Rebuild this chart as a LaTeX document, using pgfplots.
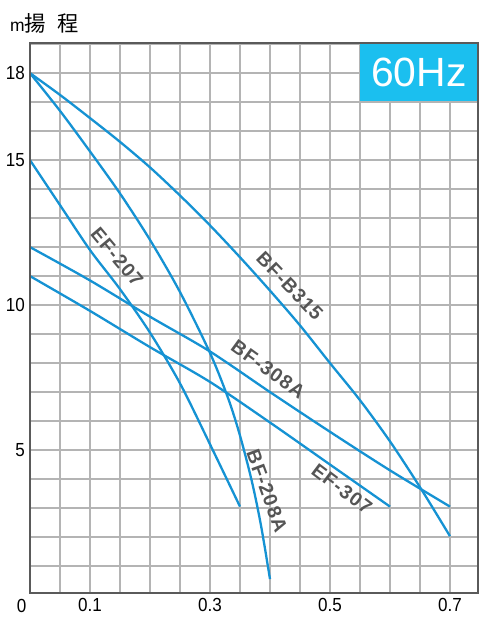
\documentclass[border=0pt]{standalone}
\usepackage{pgfplots}
\pgfplotsset{compat=1.18}
\usepackage{fontspec}
\setmainfont{Liberation Sans}
\newfontfamily\cjk{Noto Sans CJK TC}
\newfontfamily\lbl[LetterSpace=6]{Liberation Sans}
\newfontfamily\tickfont[FakeStretch=0.9]{Liberation Sans}
\definecolor{curve}{HTML}{1592D3}
\definecolor{hz}{HTML}{1BBFEF}
\definecolor{framec}{HTML}{5A5A5A}
\definecolor{gridc}{HTML}{B4B4B4}
\definecolor{txt}{HTML}{555555}
\tikzset{lbl/.style={font=\lbl\bfseries\fontsize{19.5}{22}\selectfont, text=txt}}
\begin{document}
\begin{tikzpicture}
\path[use as bounding box] (-30bp,-24bp) rectangle (451bp,593bp);
\begin{axis}[
  scale only axis, width=448bp, height=550bp,
  xmin=0, xmax=0.7467, ymin=0.07, ymax=19.04,
  xtick={0.1,0.3,0.5,0.7}, xticklabels={0.1,0.3,0.5,0.7},
  ytick={5,10,15,18}, yticklabels={5,10,15,18},
  minor xtick={0.05,0.1,0.15,0.2,0.25,0.3,0.35,0.4,0.45,0.5,0.55,0.6,0.65,0.7},
  minor ytick={1,2,3,4,5,6,7,8,9,10,11,12,13,14,15,16,17,18,19},
  grid=both,
  major grid style={gridc, line width=1.3bp},
  minor grid style={gridc, line width=1.3bp},
  axis line style={draw=none},
  tick style={draw=none},
  /pgf/number format/assume math mode=true,
  ticklabel style={font=\tickfont\fontsize{19}{21}\selectfont, text=black},
  xticklabel style={anchor=north, inner sep=0pt, yshift=-5bp},
  yticklabel style={anchor=east, inner sep=0pt, xshift=-5bp},
]
\fill[hz] (axis cs:0.55,17.03) rectangle (axis cs:0.7467,19.04);
\node[text=white, font=\fontsize{41}{45}\selectfont] at (axis cs:0.6483,18.03) {60Hz};
% BF-B315
\addplot[curve, line width=2.3bp, smooth, tension=0.5] coordinates {
(0,18) (0.05,17.25) (0.1,16.45) (0.15,15.63) (0.2,14.75) (0.25,13.78) (0.3,12.75)
(0.35,11.65) (0.4,10.5) (0.45,9.3) (0.5,8.0) (0.55,6.72) (0.6,5.3) (0.65,3.72) (0.7,2.03)};
% BF-208A
\addplot[curve, line width=2.3bp, smooth, tension=0.5] coordinates {
(0,18) (0.05,16.7) (0.1,15.3) (0.15,13.85) (0.2,12.25) (0.25,10.45) (0.3,8.35)
(0.33,6.8) (0.35,5.5) (0.37,3.9) (0.385,2.4) (0.4,0.55)};
% EF-207
\addplot[curve, line width=2.3bp, smooth, tension=0.5] coordinates {
(0,15) (0.05,13.45) (0.1,11.9) (0.15,10.55) (0.2,9.05) (0.25,7.3) (0.3,5.2) (0.35,3.05)};
% BF-308A
\addplot[curve, line width=2.3bp, smooth, tension=0.5] coordinates {
(0,12) (0.1,10.85) (0.2,9.6) (0.3,8.4) (0.4,7.0) (0.5,5.63) (0.6,4.3) (0.7,3.05)};
% EF-307
\addplot[curve, line width=2.3bp, smooth, tension=0.5] coordinates {
(0,11) (0.1,9.8) (0.2,8.55) (0.3,7.35) (0.4,5.95) (0.5,4.5) (0.6,3.05)};
\node[lbl, rotate=-46] at (axis cs:0.433,10.66) {BF-B315};
\node[lbl, rotate=-50] at (axis cs:0.145,11.66) {EF-207};
\node[lbl, rotate=-36] at (axis cs:0.397,7.78) {BF-308A};
\node[lbl, rotate=-37] at (axis cs:0.52,3.66) {EF-307};
\node[lbl, rotate=-70] at (axis cs:0.395,3.59) {BF-208A};
\end{axis}
\draw[framec, line width=2.5bp] (0,0) rectangle (448bp,550bp);
\node[font=\tickfont\fontsize{19}{21}\selectfont] at (-8.5bp,-12.5bp) {0};
\node[anchor=base west, inner sep=0pt] at (-20bp,561bp) {\fontsize{17.5}{20}\selectfont m\cjk\fontsize{21.5}{24}\selectfont 揚\hspace{11bp}程};
\end{tikzpicture}
\end{document}
